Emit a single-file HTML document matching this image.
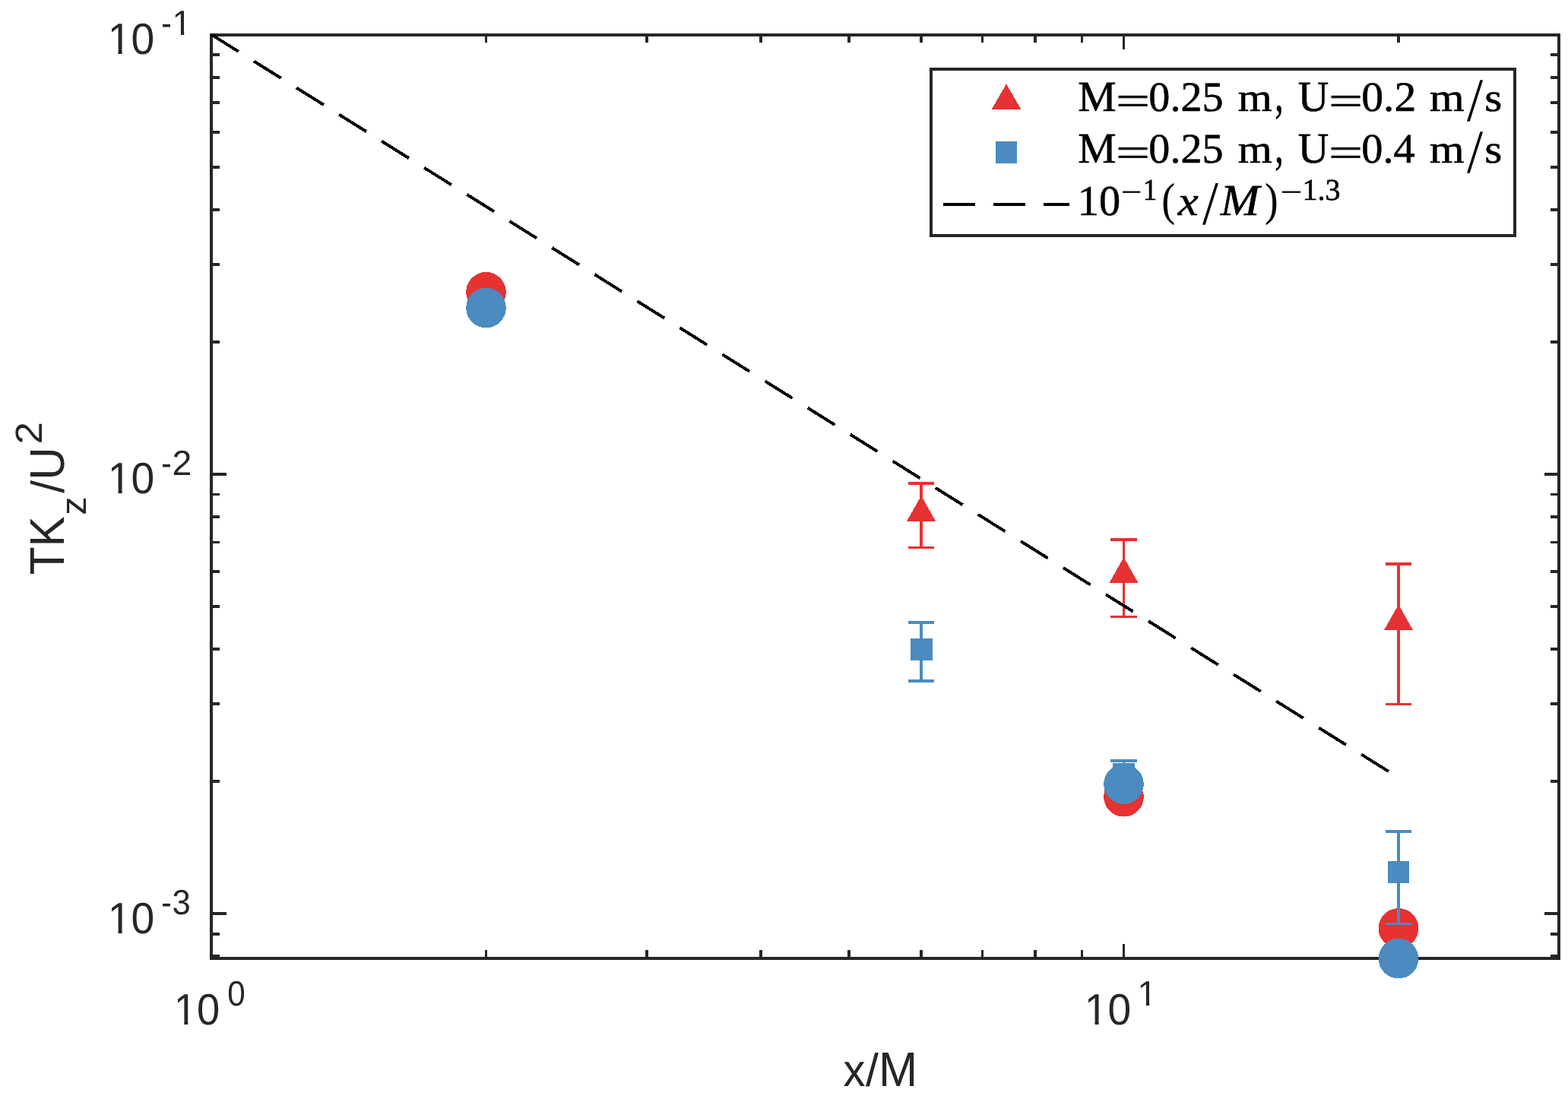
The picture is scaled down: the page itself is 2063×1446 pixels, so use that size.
<!DOCTYPE html>
<html lang="en">
<head>
<meta charset="utf-8">
<title>TKz/U2 versus x/M</title>
<style>
html,body{margin:0;padding:0;background:#ffffff;}
body{width:2063px;height:1446px;overflow:hidden;font-family:"Liberation Sans",sans-serif;}
svg{display:block;}
</style>
</head>
<body>
<svg width="2063" height="1446" viewBox="0 0 2063 1446" role="img" aria-label="TKz/U2 versus x/M, log-log plot">
<clipPath id="c0"><rect x="0" y="0" width="2063" height="41"/><rect x="0" y="41" width="228.42" height="6"/><rect x="237.93" y="41" width="4.26" height="6"/><rect x="250.73" y="41" width="1812.27" height="6"/><rect x="0" y="47" width="2063" height="18"/><rect x="0" y="65" width="143.96" height="7"/><rect x="155.51" y="65" width="5.12" height="7"/><rect x="171.01" y="65" width="1891.99" height="7"/><rect x="0" y="72" width="2063" height="1374"/></clipPath><clipPath id="c1"><rect x="0" y="0" width="2063" height="643"/><rect x="0" y="643" width="143.96" height="7"/><rect x="155.51" y="643" width="5.12" height="7"/><rect x="171.01" y="643" width="1891.99" height="7"/><rect x="0" y="650" width="2063" height="796"/></clipPath><clipPath id="c2"><rect x="0" y="0" width="2063" height="1222"/><rect x="0" y="1222" width="143.96" height="7"/><rect x="155.51" y="1222" width="5.12" height="7"/><rect x="171.01" y="1222" width="1891.99" height="7"/><rect x="0" y="1229" width="2063" height="217"/></clipPath><clipPath id="c3"><rect x="0" y="0" width="2063" height="1342"/><rect x="0" y="1342" width="230.92" height="7"/><rect x="242.28" y="1342" width="5.04" height="7"/><rect x="257.52" y="1342" width="1805.48" height="7"/><rect x="0" y="1349" width="2063" height="97"/></clipPath><clipPath id="c4"><rect x="0" y="0" width="2063" height="1318"/><rect x="0" y="1318" width="1498.42" height="6"/><rect x="1507.93" y="1318" width="4.26" height="6"/><rect x="1520.73" y="1318" width="542.27" height="6"/><rect x="0" y="1324" width="2063" height="18"/><rect x="0" y="1342" width="1428.93" height="7"/><rect x="1440.48" y="1342" width="5.12" height="7"/><rect x="1455.96" y="1342" width="607.04" height="7"/><rect x="0" y="1349" width="2063" height="97"/></clipPath>
<rect width="2063" height="1446" fill="#ffffff"/>
<g id="axes" shape-rendering="crispEdges">
<rect x="278" y="46" width="1773" height="1215" fill="none" stroke="#262626" stroke-width="4"/>
<rect x="638" y="1250" width="3" height="10" fill="#262626"/>
<rect x="638" y="47" width="3" height="9" fill="#262626"/>
<rect x="849" y="1250" width="4" height="10" fill="#262626"/>
<rect x="849" y="47" width="4" height="9" fill="#262626"/>
<rect x="999" y="1250" width="4" height="10" fill="#262626"/>
<rect x="999" y="47" width="4" height="9" fill="#262626"/>
<rect x="1115" y="1250" width="4" height="10" fill="#262626"/>
<rect x="1115" y="47" width="4" height="9" fill="#262626"/>
<rect x="1210" y="1250" width="4" height="10" fill="#262626"/>
<rect x="1210" y="47" width="4" height="9" fill="#262626"/>
<rect x="1291" y="1250" width="3" height="10" fill="#262626"/>
<rect x="1291" y="47" width="3" height="9" fill="#262626"/>
<rect x="1360" y="1250" width="4" height="10" fill="#262626"/>
<rect x="1360" y="47" width="4" height="9" fill="#262626"/>
<rect x="1422" y="1250" width="3" height="10" fill="#262626"/>
<rect x="1422" y="47" width="3" height="9" fill="#262626"/>
<rect x="1477" y="1242" width="3" height="18" fill="#262626"/>
<rect x="1477" y="47" width="3" height="18" fill="#262626"/>
<rect x="1838" y="1250" width="4" height="10" fill="#262626"/>
<rect x="1838" y="47" width="4" height="9" fill="#262626"/>
<rect x="279" y="70" width="10" height="4" fill="#262626"/>
<rect x="2040" y="70" width="10" height="4" fill="#262626"/>
<rect x="279" y="100" width="10" height="4" fill="#262626"/>
<rect x="2040" y="100" width="10" height="4" fill="#262626"/>
<rect x="279" y="133" width="10" height="4" fill="#262626"/>
<rect x="2040" y="133" width="10" height="4" fill="#262626"/>
<rect x="279" y="172" width="10" height="4" fill="#262626"/>
<rect x="2040" y="172" width="10" height="4" fill="#262626"/>
<rect x="279" y="218" width="10" height="4" fill="#262626"/>
<rect x="2040" y="218" width="10" height="4" fill="#262626"/>
<rect x="279" y="274" width="10" height="4" fill="#262626"/>
<rect x="2040" y="274" width="10" height="4" fill="#262626"/>
<rect x="279" y="346" width="10" height="4" fill="#262626"/>
<rect x="2040" y="346" width="10" height="4" fill="#262626"/>
<rect x="279" y="448" width="10" height="4" fill="#262626"/>
<rect x="2040" y="448" width="10" height="4" fill="#262626"/>
<rect x="279" y="622" width="19" height="4" fill="#262626"/>
<rect x="2032" y="622" width="18" height="4" fill="#262626"/>
<rect x="279" y="649" width="10" height="3" fill="#262626"/>
<rect x="2040" y="649" width="10" height="3" fill="#262626"/>
<rect x="279" y="678" width="10" height="4" fill="#262626"/>
<rect x="2040" y="678" width="10" height="4" fill="#262626"/>
<rect x="279" y="712" width="10" height="3" fill="#262626"/>
<rect x="2040" y="712" width="10" height="3" fill="#262626"/>
<rect x="279" y="750" width="10" height="4" fill="#262626"/>
<rect x="2040" y="750" width="10" height="4" fill="#262626"/>
<rect x="279" y="796" width="10" height="4" fill="#262626"/>
<rect x="2040" y="796" width="10" height="4" fill="#262626"/>
<rect x="279" y="852" width="10" height="4" fill="#262626"/>
<rect x="2040" y="852" width="10" height="4" fill="#262626"/>
<rect x="279" y="924" width="10" height="4" fill="#262626"/>
<rect x="2040" y="924" width="10" height="4" fill="#262626"/>
<rect x="279" y="1026" width="10" height="4" fill="#262626"/>
<rect x="2040" y="1026" width="10" height="4" fill="#262626"/>
<rect x="279" y="1200" width="19" height="4" fill="#262626"/>
<rect x="2032" y="1200" width="18" height="4" fill="#262626"/>
<rect x="279" y="1227" width="10" height="4" fill="#262626"/>
<rect x="2040" y="1227" width="10" height="4" fill="#262626"/>
<rect x="279" y="1256" width="10" height="4" fill="#262626"/>
<rect x="2040" y="1256" width="10" height="4" fill="#262626"/>
</g>
<g id="series" shape-rendering="crispEdges">
<rect x="1210.2" y="634" width="3.7" height="88.1" fill="#e73133"/>
<rect x="1195" y="634" width="34" height="4" fill="#e73133"/>
<rect x="1195" y="719" width="34" height="3.1" fill="#e73133"/>
<polygon points="1212.05,652.2 1231.05,685.8 1193.05,685.8" fill="#e73133"/>
<rect x="1477.2" y="707.9" width="2.8" height="105.1" fill="#e73133"/>
<rect x="1461" y="707.9" width="35" height="4.2" fill="#e73133"/>
<rect x="1461" y="810.1" width="35" height="2.9" fill="#e73133"/>
<polygon points="1478.5,733.3 1497.5,767 1459.5,767" fill="#e73133"/>
<rect x="1838.1" y="739.9" width="3.8" height="188.2" fill="#e73133"/>
<rect x="1823" y="739.9" width="34" height="4" fill="#e73133"/>
<rect x="1823" y="925.2" width="34" height="2.9" fill="#e73133"/>
<polygon points="1840,795.4 1859,829 1821,829" fill="#e73133"/>
<circle cx="639.5" cy="384.3" r="26.3" fill="#e73133"/>
<circle cx="1478.5" cy="1048.3" r="26.3" fill="#e73133"/>
<circle cx="1840" cy="1221.4" r="26.3" fill="#e73133"/>
<rect x="1210.2" y="817" width="3.7" height="80.9" fill="#4b8bbf"/>
<rect x="1195" y="817" width="34" height="3.9" fill="#4b8bbf"/>
<rect x="1195" y="894" width="34" height="3.9" fill="#4b8bbf"/>
<rect x="1198" y="840" width="29" height="29" fill="#4b8bbf"/>
<rect x="1477.2" y="999.1" width="2.8" height="40.4" fill="#4b8bbf"/>
<rect x="1461" y="999.1" width="35" height="3.7" fill="#4b8bbf"/>
<rect x="1461" y="1036" width="35" height="3.5" fill="#4b8bbf"/>
<rect x="1464" y="1004" width="29" height="29" fill="#4b8bbf"/>
<rect x="1838.1" y="1092" width="3.8" height="125.2" fill="#4b8bbf"/>
<rect x="1823" y="1092" width="34" height="3.8" fill="#4b8bbf"/>
<rect x="1823" y="1214" width="34" height="3.2" fill="#4b8bbf"/>
<rect x="1826" y="1133" width="28" height="29" fill="#4b8bbf"/>
<circle cx="639.5" cy="405" r="26.3" fill="#4b8bbf"/>
<circle cx="1478.5" cy="1031.7" r="26.3" fill="#4b8bbf"/>
<circle cx="1840" cy="1261.1" r="26.3" fill="#4b8bbf"/>
<line x1="278" y1="45.4" x2="1839.64" y2="1022.99" stroke="#000000" stroke-width="4" stroke-dasharray="42.2 23.92"/>
</g>
<g id="labels" style="font-kerning:none;text-rendering:geometricPrecision">
<text font-family='"Liberation Sans",sans-serif' fill="#262626" clip-path="url(#c0)"><tspan x="141.75" y="70.8" font-size="57.8" textLength="61.41" lengthAdjust="spacingAndGlyphs">10</tspan><tspan x="212.3" y="45.9" font-size="46.2" textLength="13.5" lengthAdjust="spacingAndGlyphs">-</tspan><tspan x="226.6" y="45.9" font-size="46.2" textLength="25.31" lengthAdjust="spacingAndGlyphs">1</tspan></text>
<text font-family='"Liberation Sans",sans-serif' fill="#262626" clip-path="url(#c1)"><tspan x="141.75" y="648.9" font-size="57.8" textLength="61.41" lengthAdjust="spacingAndGlyphs">10</tspan><tspan x="212.3" y="624.9" font-size="46.2" textLength="13.5" lengthAdjust="spacingAndGlyphs">-</tspan><tspan x="226.57" y="624.9" font-size="46.2" textLength="25.82" lengthAdjust="spacingAndGlyphs">2</tspan></text>
<text font-family='"Liberation Sans",sans-serif' fill="#262626" clip-path="url(#c2)"><tspan x="141.75" y="1227.6" font-size="57.8" textLength="61.41" lengthAdjust="spacingAndGlyphs">10</tspan><tspan x="212.3" y="1203.45" font-size="46.2" textLength="13.5" lengthAdjust="spacingAndGlyphs">-</tspan><tspan x="226.44" y="1203.45" font-size="46.2" textLength="24.28" lengthAdjust="spacingAndGlyphs">3</tspan></text>
<text font-family='"Liberation Sans",sans-serif' fill="#262626" clip-path="url(#c3)"><tspan x="228.75" y="1347.8" font-size="57.8" textLength="60.39" lengthAdjust="spacingAndGlyphs">10</tspan><tspan x="299.17" y="1323.3" font-size="46.2" textLength="23.45" lengthAdjust="spacingAndGlyphs">0</tspan></text>
<text font-family='"Liberation Sans",sans-serif' fill="#262626" clip-path="url(#c4)"><tspan x="1426.72" y="1347.8" font-size="57.8" textLength="61.36" lengthAdjust="spacingAndGlyphs">10</tspan><tspan x="1496.6" y="1322.9" font-size="46.2" textLength="25.31" lengthAdjust="spacingAndGlyphs">1</tspan></text>
<text font-family='"Liberation Sans",sans-serif' fill="#262626"><tspan x="1109.45" y="1428.87" font-size="60.19" textLength="28.97" lengthAdjust="spacingAndGlyphs">x</tspan><tspan x="1139.1" y="1429.01" font-size="60.77" textLength="16.9" lengthAdjust="spacingAndGlyphs">/</tspan><tspan x="1156.01" y="1428.87" font-size="63.81" textLength="51.18" lengthAdjust="spacingAndGlyphs">M</tspan></text>
<text font-family='"Liberation Sans",sans-serif' fill="#262626" transform="rotate(-90)"><tspan x="-756.25" y="84.04" font-size="64.16" textLength="77.03" lengthAdjust="spacingAndGlyphs">TK</tspan><tspan x="-677.87" y="113.07" font-size="47.41" textLength="24.29" lengthAdjust="spacingAndGlyphs">z</tspan><tspan x="-648.7" y="84.3" font-size="61" textLength="16.8" lengthAdjust="spacingAndGlyphs">/</tspan><tspan x="-631.52" y="84.04" font-size="64.16" textLength="43.24" lengthAdjust="spacingAndGlyphs">U</tspan><tspan x="-584.56" y="54.84" font-size="49.61" textLength="29.42" lengthAdjust="spacingAndGlyphs">2</tspan></text>
</g>
<g id="legend" shape-rendering="crispEdges" style="font-kerning:none;text-rendering:geometricPrecision">
<rect x="1225" y="91" width="768" height="219" fill="#ffffff" stroke="#262626" stroke-width="4"/>
<polygon points="1324,110.5 1343.4,144 1304.6,144" fill="#e73133"/>
<rect x="1310" y="186" width="28" height="29" fill="#4b8bbf"/>
<line x1="1241" y1="269" x2="1407" y2="269" stroke="#000000" stroke-width="4" stroke-dasharray="42 24.06"/>
<text font-family='"Liberation Serif",serif' fill="#000000" stroke="#000000" stroke-width="0.6" stroke-linejoin="round"><tspan x="1418.27" y="146.2" font-size="56.66" textLength="50.39" lengthAdjust="spacingAndGlyphs">M</tspan><tspan x="1468.12" y="150.66" font-size="54.4" textLength="45.08" lengthAdjust="spacingAndGlyphs">=</tspan><tspan x="1511.36" y="145.92" font-size="55.36" textLength="98.13" lengthAdjust="spacingAndGlyphs">0.25</tspan><tspan> </tspan><tspan x="1628.68" y="146.2" font-size="52.21" textLength="45.02" lengthAdjust="spacingAndGlyphs">m</tspan><tspan x="1677.26" y="146.32" font-size="68.14" textLength="11.42" lengthAdjust="spacingAndGlyphs">,</tspan><tspan> </tspan><tspan x="1707.72" y="146.2" font-size="56.66" textLength="40.45" lengthAdjust="spacingAndGlyphs">U</tspan><tspan x="1748.12" y="150.66" font-size="54.4" textLength="45.08" lengthAdjust="spacingAndGlyphs">=</tspan><tspan x="1791.31" y="145.92" font-size="55.36" textLength="71.97" lengthAdjust="spacingAndGlyphs">0.2</tspan><tspan> </tspan><tspan x="1880.66" y="146.2" font-size="52.21" textLength="45.86" lengthAdjust="spacingAndGlyphs">m</tspan><tspan x="1929.9" y="158.9" font-size="81.47" textLength="21.1" lengthAdjust="spacingAndGlyphs" stroke-width="0">/</tspan><tspan x="1953.37" y="146.19" font-size="52.19" textLength="23.07" lengthAdjust="spacingAndGlyphs">s</tspan></text>
<text font-family='"Liberation Serif",serif' fill="#000000" stroke="#000000" stroke-width="0.6" stroke-linejoin="round"><tspan x="1418.27" y="214.2" font-size="56.66" textLength="50.39" lengthAdjust="spacingAndGlyphs">M</tspan><tspan x="1468.12" y="218.66" font-size="54.4" textLength="45.08" lengthAdjust="spacingAndGlyphs">=</tspan><tspan x="1511.36" y="213.92" font-size="55.36" textLength="98.13" lengthAdjust="spacingAndGlyphs">0.25</tspan><tspan> </tspan><tspan x="1628.68" y="214.2" font-size="52.21" textLength="45.02" lengthAdjust="spacingAndGlyphs">m</tspan><tspan x="1677.26" y="214.32" font-size="68.14" textLength="11.42" lengthAdjust="spacingAndGlyphs">,</tspan><tspan> </tspan><tspan x="1707.72" y="214.2" font-size="56.66" textLength="40.45" lengthAdjust="spacingAndGlyphs">U</tspan><tspan x="1748.12" y="218.66" font-size="54.4" textLength="45.08" lengthAdjust="spacingAndGlyphs">=</tspan><tspan x="1791.35" y="213.72" font-size="55.06" textLength="70.43" lengthAdjust="spacingAndGlyphs">0.4</tspan><tspan> </tspan><tspan x="1880.66" y="214.2" font-size="52.21" textLength="45.86" lengthAdjust="spacingAndGlyphs">m</tspan><tspan x="1929.9" y="226.9" font-size="81.47" textLength="21.1" lengthAdjust="spacingAndGlyphs" stroke-width="0">/</tspan><tspan x="1953.37" y="214.19" font-size="52.19" textLength="23.07" lengthAdjust="spacingAndGlyphs">s</tspan></text>
<text font-family='"Liberation Serif",serif' fill="#000000" stroke="#000000" stroke-width="0.6" stroke-linejoin="round"><tspan x="1417.85" y="283.15" font-size="56.16" textLength="56.29" lengthAdjust="spacingAndGlyphs">10</tspan><tspan x="1474.41" y="268.38" font-size="46.18" textLength="28.24" lengthAdjust="spacingAndGlyphs" stroke-width="0">−</tspan><tspan x="1503.63" y="263.2" font-size="39.69" textLength="18.61" lengthAdjust="spacingAndGlyphs">1</tspan><tspan x="1528.41" y="283.01" font-size="60.55" textLength="17.37" lengthAdjust="spacingAndGlyphs" stroke-width="0.3">(</tspan><tspan x="1549.84" y="283.1" font-size="54.47" textLength="26.9" lengthAdjust="spacingAndGlyphs" font-style="italic">x</tspan><tspan x="1581.9" y="295.1" font-size="82.07" textLength="21" lengthAdjust="spacingAndGlyphs" stroke-width="0">/</tspan><tspan x="1605.72" y="283.1" font-size="58.19" textLength="51.44" lengthAdjust="spacingAndGlyphs" font-style="italic">M</tspan><tspan x="1664.23" y="283.01" font-size="60.55" textLength="17.24" lengthAdjust="spacingAndGlyphs" stroke-width="0.3">)</tspan><tspan x="1684.3" y="268.38" font-size="46.18" textLength="29.45" lengthAdjust="spacingAndGlyphs" stroke-width="0">−</tspan><tspan x="1713.47" y="263.34" font-size="39.78" textLength="50.2" lengthAdjust="spacingAndGlyphs">1.3</tspan></text>
</g>
</svg>
</body>
</html>
